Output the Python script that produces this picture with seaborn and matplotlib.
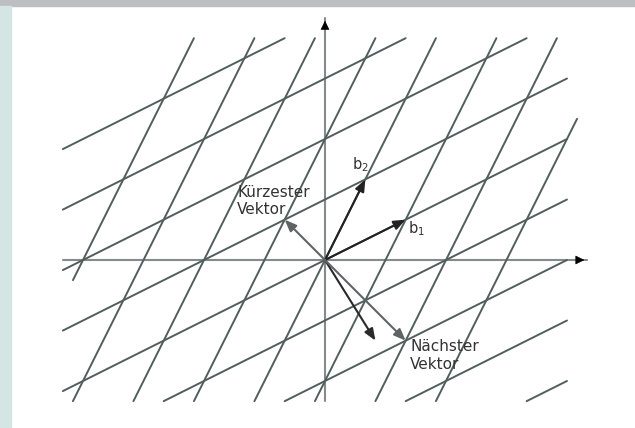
import numpy as np
import pandas as pd
import matplotlib
matplotlib.use('Agg')
import matplotlib.pyplot as plt
from matplotlib.patches import Rectangle
import seaborn as sns

# lattice basis b1=(2,1), b2=(1,2); lines along b2 through i*b1, lines along b1 through j*b2
steep_idx = [-4, -3, -2, -1, 0, 1, 2, 3]
steep_ylo = [-0.5, -3.5, -3.5, -3.5, -3.5, -3.5, -3.5, -3.5]
steep_yhi = [5.5, 5.5, 5.5, 5.5, 5.5, 5.5, 5.5, 3.5]

flat_idx = [4, 3, 2, 1, 0, -1, -2, -3, -4]
flat_xlo = [-6.5, -6.5, -6.5, -6.5, -6.5, -4.0, -1.0, 2.0, 5.0]
flat_xhi = [-1.0, 2.0, 5.0, 6.0, 6.0, 6.0, 6.0, 6.0, 6.0]

b1 = (2, 1)
b2 = (1, 2)
shortest = (-1, 1)
target = (1.25, -2)
closest = (2, -2)

x_axis = (-6.5, 6.5)
y_axis = (-3.5, 6.0)

U = 40.33  # pixels per unit

rows = []
for i, lo, hi in zip(steep_idx, steep_ylo, steep_yhi):
    for y in (lo, hi):
        rows.append({'seg': 's%d' % i, 'x': (y + 3 * i) / 2, 'y': y})
for j, lo, hi in zip(flat_idx, flat_xlo, flat_xhi):
    for x in (lo, hi):
        rows.append({'seg': 'f%d' % j, 'x': x, 'y': x / 2 + 1.5 * j})
lines = pd.DataFrame(rows)

sns.set_style('white')
fig = plt.figure(figsize=(6.35, 4.28), dpi=100)
ax = fig.add_axes([0, 0, 1, 1])
ax.set_xlim(-325 / U, 310 / U)
ax.set_ylim(-168 / U, 260 / U)
ax.axis('off')

# page decoration
fig.patches.append(Rectangle((0, 1 - 6 / 428), 1, 6 / 428, transform=fig.transFigure,
                             color='#bcbec0', zorder=5))
fig.patches.append(Rectangle((0, 0), 11 / 635, 1 - 6 / 428, transform=fig.transFigure,
                             color='#d3e6e4', zorder=5))

# coordinate axes
axis_col = '#858b8b'
ax.plot(x_axis, (0, 0), color=axis_col, lw=1.5, zorder=1)
ax.plot((0, 0), y_axis, color=axis_col, lw=1.5, zorder=1)
ax.annotate('', xy=(x_axis[1], 0), xytext=(x_axis[1] - 0.3, 0),
            arrowprops=dict(arrowstyle='-|>', color='black', lw=0.5, mutation_scale=14))
ax.annotate('', xy=(0, y_axis[1]), xytext=(0, y_axis[1] - 0.3),
            arrowprops=dict(arrowstyle='-|>', color='black', lw=0.5, mutation_scale=14))

# lattice lines
sns.lineplot(data=lines, x='x', y='y', units='seg', estimator=None, sort=False,
             color='#525e5d', lw=1.4, ax=ax, zorder=2)

def vec(p, col):
    ax.annotate('', xy=p, xytext=(0, 0), zorder=3,
                arrowprops=dict(arrowstyle='-|>,head_length=0.5,head_width=0.2', color=col,
                                lw=1.5, mutation_scale=14, shrinkA=0, shrinkB=0))

vec(b1, '#222222')
vec(b2, '#222222')
vec(target, '#2a2a2a')
vec(shortest, '#5f6363')
vec(closest, '#5f6363')

tc = '#333333'
ax.text(2.06, 0.67, 'b$_{1}$', fontsize=10.5, color=tc, ha='left', va='baseline')
ax.text(0.67, 2.26, 'b$_{2}$', fontsize=10.5, color=tc, ha='left', va='baseline')
ax.text(-2.18, 1.87, 'Kürzester\nVektor', fontsize=11, color=tc, ha='left', va='top',
        linespacing=1.2)
ax.text(2.11, -1.97, 'Nächster\nVektor', fontsize=11, color=tc, ha='left', va='top',
        linespacing=1.2)

fig.savefig('out.png', dpi=100)
